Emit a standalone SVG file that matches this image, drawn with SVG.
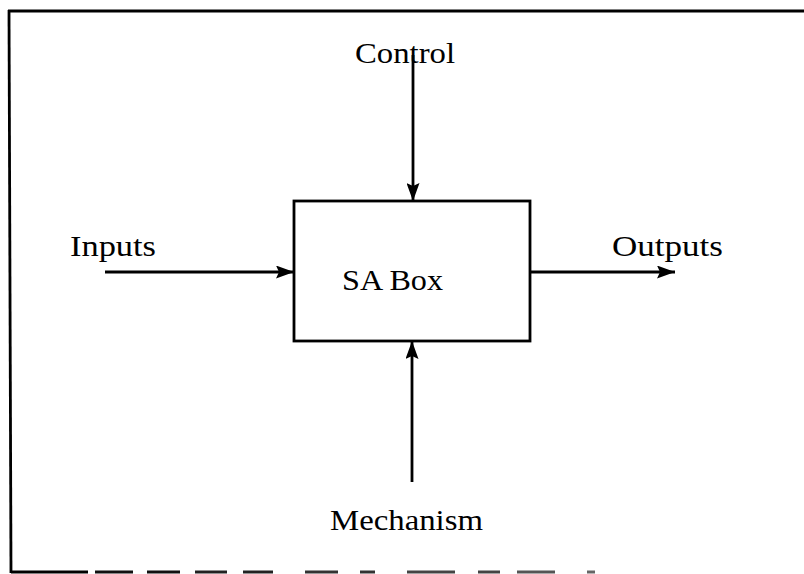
<svg xmlns="http://www.w3.org/2000/svg" width="804" height="574" viewBox="0 0 804 574">
  <style>
    .frame { stroke: #000; stroke-width: 2.8; fill: none; }
    .box { stroke: #000; stroke-width: 2.8; fill: #fff; }
    .conn { stroke: #000; stroke-width: 2.8; fill: none; }
    .label { font-family: "Liberation Serif", "Times New Roman", serif; font-size: 29px; fill: #000; }
  </style>
  <defs>
    <marker id="arrow" viewBox="0 0 18 13" refX="18" refY="6.5" markerUnits="userSpaceOnUse" markerWidth="18" markerHeight="13" orient="auto">
      <path d="M0,0 L18,6.5 L0,13 L3,6.5 Z" fill="#000"/>
    </marker>
  </defs>

  <!-- outer frame -->
  <g id="frame">
    <line class="frame" x1="8" y1="11" x2="804" y2="11"/>
    <line class="frame" x1="9" y1="10" x2="11" y2="573"/>
    <!-- broken bottom edge -->
    <g stroke-width="3">
      <line x1="11" y1="572" x2="88" y2="572" stroke="#000"/>
      <line x1="95" y1="572" x2="133" y2="572" stroke="#111"/>
      <line x1="147" y1="572" x2="180" y2="572" stroke="#111"/>
      <line x1="195" y1="572" x2="227" y2="572" stroke="#222"/>
      <line x1="243" y1="572" x2="273" y2="572" stroke="#222"/>
      <line x1="305" y1="572" x2="338" y2="572" stroke="#333"/>
      <line x1="360" y1="572" x2="375" y2="572" stroke="#333"/>
      <line x1="407" y1="572" x2="455" y2="572" stroke="#444"/>
      <line x1="478" y1="572" x2="500" y2="572" stroke="#444"/>
      <line x1="517" y1="572" x2="555" y2="572" stroke="#555"/>
      <line x1="587" y1="572" x2="595" y2="572" stroke="#666"/>
    </g>
  </g>

  <!-- SA box -->
  <g id="sa-box">
    <rect class="box" x="294" y="201" width="236" height="140"/>
    <text class="label" x="342" y="290" textLength="101" lengthAdjust="spacingAndGlyphs">SA Box</text>
  </g>

  <!-- ICOM labels -->
  <g id="control">
    <text class="label" x="355" y="63" textLength="100" lengthAdjust="spacingAndGlyphs">Control</text>
  </g>
  <g id="inputs">
    <text class="label" x="70" y="256" textLength="86" lengthAdjust="spacingAndGlyphs">Inputs</text>
  </g>
  <g id="outputs">
    <text class="label" x="612" y="256" textLength="111" lengthAdjust="spacingAndGlyphs">Outputs</text>
  </g>
  <g id="mechanism">
    <text class="label" x="330" y="530" textLength="153" lengthAdjust="spacingAndGlyphs">Mechanism</text>
  </g>

  <!-- connectors -->
  <g id="connectors">
    <line class="conn" x1="413" y1="55" x2="413" y2="201" marker-end="url(#arrow)"/>
    <line class="conn" x1="105" y1="272" x2="294" y2="272" marker-end="url(#arrow)"/>
    <line class="conn" x1="530" y1="272" x2="675" y2="272" marker-end="url(#arrow)"/>
    <line class="conn" x1="412" y1="482" x2="412" y2="341" marker-end="url(#arrow)"/>
  </g>
</svg>
